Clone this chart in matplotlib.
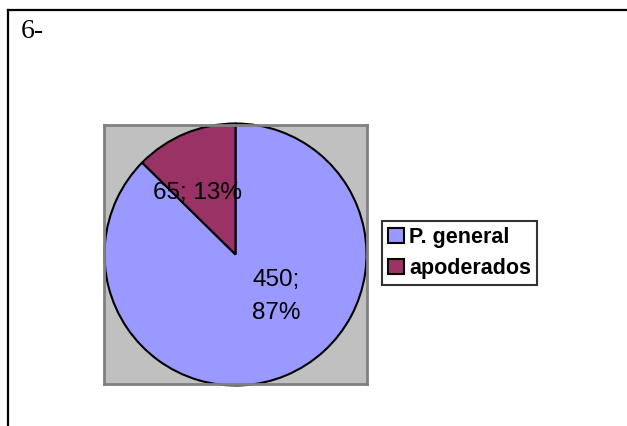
import matplotlib
matplotlib.use("Agg")
import matplotlib.pyplot as plt
from matplotlib.patches import Patch
from matplotlib.lines import Line2D

categories = ["P. general", "apoderados"]
values = [450, 65]
percents = [87, 13]
colors = ["#9999FF", "#993366"]
title_text = "6-"

W, H = 627, 426
fig = plt.figure(figsize=(W / 100, H / 100), dpi=100)
fig.patch.set_facecolor("white")

# outer frame: top and left lines only
fig.add_artist(Line2D([7.5 / W, 1.0], [1 - 9.5 / H, 1 - 9.5 / H], color="black", lw=1.6,
                      transform=fig.transFigure))
fig.add_artist(Line2D([7.5 / W, 7.5 / W], [0, 1 - 9.5 / H], color="black", lw=1.6,
                      transform=fig.transFigure))

fig.text(21 / W, 1 - 31 / H, title_text, fontsize=20, family="Liberation Serif",
         va="center", ha="left")

# plot area
bx0, bx1, by0, by1 = 104, 367, 125, 384
ax = fig.add_axes([bx0 / W, 1 - by1 / H, (bx1 - bx0) / W, (by1 - by0) / H])
ax.set_facecolor("#C0C0C0")
for s in ax.spines.values():
    s.set_color("#808080")
    s.set_linewidth(2)

r_px = 131
wedges, _ = ax.pie(values, colors=colors, startangle=90, counterclock=False,
                   wedgeprops=dict(edgecolor="black", linewidth=1.5), radius=1.0)
for w in wedges:
    w.set_clip_on(False)
ax.set_xlim(-(bx1 - bx0) / 2 / r_px, (bx1 - bx0) / 2 / r_px)
ax.set_ylim(-(by1 - by0) / 2 / r_px, (by1 - by0) / 2 / r_px)
ax.set_aspect("auto")
ax.set_xticks([])
ax.set_yticks([])
ax.set_frame_on(True)
ax.axis("on")

lab_font = dict(fontsize=17.5, family="Liberation Sans", ha="center", va="center")
ax.text(0.31, -0.32, f"{values[0]};\n{percents[0]}%", linespacing=1.6, **lab_font)
ax.text(-0.29, 0.47, f"{values[1]}; {percents[1]}%", **lab_font)

handles = [Patch(facecolor=c, edgecolor="black", linewidth=1.5) for c in colors]
leg = fig.legend(handles, categories, loc="center left",
                 bbox_to_anchor=(382 / W, 1 - 253 / H),
                 prop=dict(family="Liberation Sans", weight="bold", size=15.5),
                 frameon=True, fancybox=False, shadow=False,
                 handlelength=0.7, handleheight=0.7, handletextpad=0.25,
                 borderpad=0.3, labelspacing=0.45, borderaxespad=0)
leg.get_frame().set_edgecolor("black")
leg.get_frame().set_linewidth(1.5)

fig.savefig("out.png", dpi=100)
